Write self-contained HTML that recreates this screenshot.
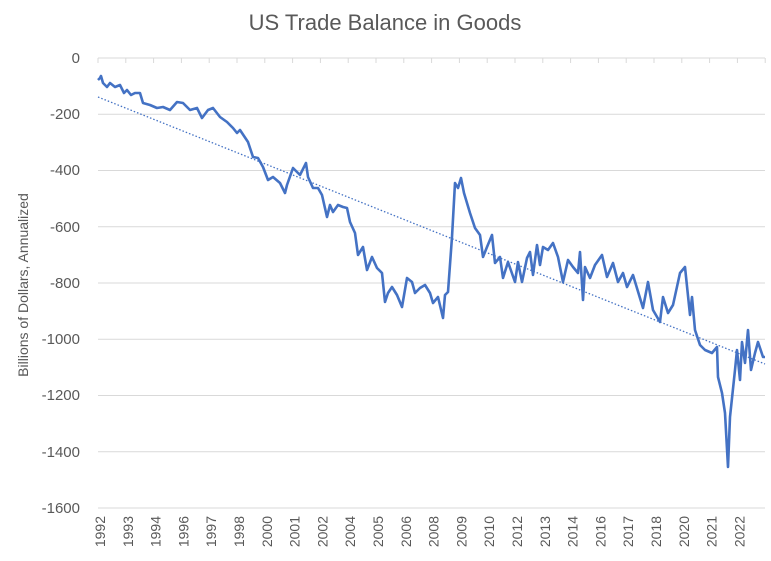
<!DOCTYPE html>
<html><head><meta charset="utf-8"><style>
body{margin:0;background:#fff;width:771px;height:561px;overflow:hidden}
svg{display:block;font-family:"Liberation Sans",sans-serif}
</style></head><body>
<svg width="771" height="561" viewBox="0 0 771 561">
<text x="385" y="30" text-anchor="middle" font-size="22" fill="#595959">US Trade Balance in Goods</text>
<g stroke="#d9d9d9" stroke-width="1">
<line x1="98" x2="765" y1="58" y2="58"/><line x1="98" x2="765" y1="114.25" y2="114.25"/>
<line x1="98" x2="765" y1="170.5" y2="170.5"/><line x1="98" x2="765" y1="226.75" y2="226.75"/>
<line x1="98" x2="765" y1="283" y2="283"/><line x1="98" x2="765" y1="339.25" y2="339.25"/>
<line x1="98" x2="765" y1="395.5" y2="395.5"/><line x1="98" x2="765" y1="451.75" y2="451.75"/>
<line x1="98" x2="765" y1="508" y2="508"/>
</g>
<g stroke="#d9d9d9" stroke-width="1" id="tk"></g>
<g font-size="15" fill="#595959" text-anchor="end">
<text x="80" y="63">0</text><text x="80" y="119">-200</text><text x="80" y="175">-400</text>
<text x="80" y="232">-600</text><text x="80" y="288">-800</text><text x="80" y="344">-1000</text>
<text x="80" y="400">-1200</text><text x="80" y="457">-1400</text><text x="80" y="513">-1600</text>
</g>
<text transform="translate(28,285) rotate(-90)" text-anchor="middle" font-size="14" fill="#595959">Billions of Dollars, Annualized</text>
<g font-size="14" fill="#595959" text-anchor="end" id="xl"></g>
<line x1="98" y1="97" x2="765" y2="364" stroke="#4472c4" stroke-width="1.3" stroke-dasharray="1.5,2"/>
<polyline fill="none" stroke="#4472c4" stroke-width="2.6" stroke-linejoin="round" points="
98,80 100,78 101,76 103,83 107,87 110,83 115,87 120,85 124,93 127,90 131,95 135,93 140,93 143,103 150,105 157,108 163,107 170,110 177,102 183,103 190,110 197,108 202,118 208,110 213,108 220,117 227,122 233,128 237,133 240,130 248,142 253,157 258,158 263,167 268,180 273,177 280,183 285,193 287,185 293,168 300,175 306,163 308,177 313,188 318,188 322,195 327,217 330,205 333,212 338,205 343,207 347,208 350,222 355,233 358,255 363,247 367,270 372,257 377,268 382,273 385,302 388,293 392,287 397,295 402,307 407,278 412,282 415,293 420,288 425,285 430,293 433,303 438,297 443,318 445,295 448,292 452,237 455,183 458,188 461,178 464,193 470,213 475,228 480,235 483,257 487,247 492,235 495,263 500,257 503,278 508,262 515,282 518,262 522,282 527,258 530,252 533,275 537,245 540,265 543,247 548,250 553,243 558,257 563,282 568,260 573,267 578,273 580,252 583,300 585,267 590,278 595,265 602,255 607,277 613,263 618,282 623,273 627,287 633,275 643,308 648,282 653,310 660,322 663,297 668,313 673,305 680,273 685,267 690,315 692,297 695,330 700,345 705,350 712,353 717,347 718,377 722,393 725,413 728,467 730,417 735,370 737,350 740,380 742,342 745,363 748,330 751,370 755,353 758,342 763,357 765,357"/>
</svg>
<script>
var g=document.getElementById('xl');
var yrs=[1992,1993,1994,1996,1997,1998,2000,2001,2002,2004,2005,2006,2008,2009,2010,2012,2013,2014,2016,2017,2018,2020,2021,2022];
var s='';
for(var i=0;i<yrs.length;i++){var x=105+i*27.8;s+='<text transform="translate('+x+',516) rotate(-90)">'+yrs[i]+'</text>';}
g.innerHTML=s;
var t='';
for(var i=0;i<=24;i++){var x=98+i*27.8;t+='<line x1="'+x+'" x2="'+x+'" y1="58" y2="63"/>';}
document.getElementById('tk').innerHTML=t;
</script>
</body></html>
